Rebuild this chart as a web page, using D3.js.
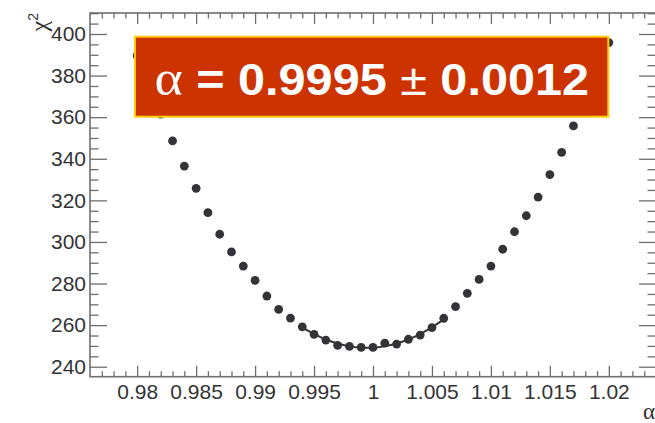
<!DOCTYPE html>
<html>
<head>
<meta charset="utf-8">
<script src="https://cdn.jsdelivr.net/npm/d3@7"></script>
<style>
  html, body { margin: 0; padding: 0; background: #fff; }
  svg { display: block; }
  .tick text { font-family: "Liberation Sans", Arial, Helvetica, sans-serif; font-size: 21px; fill: #333; }
</style>
</head>
<body>
<svg id="chart" width="655" height="423"></svg>
<script>
// Scan points: scale parameter alpha and the chi-square at each value
const alphaValues = [
  0.980, 0.981, 0.982, 0.983, 0.984, 0.985, 0.986, 0.987, 0.988, 0.989,
  0.990, 0.991, 0.992, 0.993, 0.994, 0.995, 0.996, 0.997, 0.998, 0.999,
  1.000, 1.001, 1.002, 1.003, 1.004, 1.005, 1.006, 1.007, 1.008, 1.009,
  1.010, 1.011, 1.012, 1.013, 1.014, 1.015, 1.016, 1.017, 1.018, 1.019,
  1.020
];
const chi2Values = [
  389.6, 375.5, 361.5, 348.6, 336.5, 325.8, 314.1, 303.7, 295.2, 288.4,
  281.5, 274.0, 267.6, 263.4, 259.2, 255.6, 252.8, 250.3, 249.8, 249.3,
  249.3, 251.3, 250.9, 253.2, 255.2, 258.8, 263.3, 268.9, 275.3, 282.0,
  288.4, 296.5, 304.9, 312.6, 321.6, 332.4, 343.1, 355.8, 369.0, 382.5,
  395.9
];

// Axis ticks
const xMajorTicks = [0.98, 0.985, 0.99, 0.995, 1, 1.005, 1.01, 1.015, 1.02];
const xTickLabels = ["0.98", "0.985", "0.99", "0.995", "1", "1.005", "1.01", "1.015", "1.02"];
const yMajorTicks = [240, 260, 280, 300, 320, 340, 360, 380, 400];
const yTickLabels = ["240", "260", "280", "300", "320", "340", "360", "380", "400"];

// Fit result shown in the banner
const fitAlpha = 0.9995;
const fitError = 0.0012;
const fitRange = [0.994, 1.006];

const xDomain = [0.976, 1.024];
const yDomain = [235.2, 410.1];

const frame = { left: 90, right: 656, top: 13, bottom: 376.7 };

const svg = d3.select("#chart");
const x = d3.scaleLinear().domain(xDomain).range([frame.left, frame.right]);
const y = d3.scaleLinear().domain(yDomain).range([frame.bottom, frame.top]);

const axisColor = "#6e6e6e";

// minor tick positions
const xMinor = d3.range(Math.round(xDomain[0] * 1000) + 1, Math.round(xDomain[1] * 1000))
  .map(v => v / 1000).filter(v => !xMajorTicks.some(m => Math.abs(m - v) < 1e-9));
const yMinor = d3.range(Math.ceil(yDomain[0] / 5) * 5, yDomain[1], 5)
  .filter(v => v % 20 !== 0);

function styleAxis(g) {
  g.select(".domain").remove();
  g.selectAll(".tick line").attr("stroke", axisColor).attr("stroke-width", 1.3);
}

const xLab = d3.scaleOrdinal().domain(xMajorTicks).range(xTickLabels);
const yLab = d3.scaleOrdinal().domain(yMajorTicks).range(yTickLabels);

// bottom axis
svg.append("g").attr("transform", `translate(0,${frame.bottom})`)
  .call(d3.axisBottom(x).tickValues(xMajorTicks).tickSize(-11).tickSizeOuter(0)
    .tickPadding(7).tickFormat(d => xLab(d)))
  .call(styleAxis);
svg.append("g").attr("transform", `translate(0,${frame.bottom})`)
  .call(d3.axisBottom(x).tickValues(xMinor).tickSize(-5.5).tickSizeOuter(0).tickFormat(""))
  .call(styleAxis);
// top axis
svg.append("g").attr("transform", `translate(0,${frame.top})`)
  .call(d3.axisTop(x).tickValues(xMajorTicks).tickSize(-11).tickSizeOuter(0).tickFormat(""))
  .call(styleAxis);
svg.append("g").attr("transform", `translate(0,${frame.top})`)
  .call(d3.axisTop(x).tickValues(xMinor).tickSize(-5.5).tickSizeOuter(0).tickFormat(""))
  .call(styleAxis);
// left axis
svg.append("g").attr("transform", `translate(${frame.left},0)`)
  .call(d3.axisLeft(y).tickValues(yMajorTicks).tickSize(-17).tickSizeOuter(0)
    .tickPadding(4).tickFormat(d => yLab(d)))
  .call(styleAxis);
svg.append("g").attr("transform", `translate(${frame.left},0)`)
  .call(d3.axisLeft(y).tickValues(yMinor).tickSize(-8.5).tickSizeOuter(0).tickFormat(""))
  .call(styleAxis);
// right axis
svg.append("g").attr("transform", `translate(${frame.right},0)`)
  .call(d3.axisRight(y).tickValues(yMajorTicks).tickSize(-17).tickSizeOuter(0).tickFormat(""))
  .call(styleAxis);
svg.append("g").attr("transform", `translate(${frame.right},0)`)
  .call(d3.axisRight(y).tickValues(yMinor).tickSize(-8.5).tickSizeOuter(0).tickFormat(""))
  .call(styleAxis);

// frame
svg.append("rect")
  .attr("x", frame.left).attr("y", frame.top)
  .attr("width", frame.right - frame.left).attr("height", frame.bottom - frame.top)
  .attr("fill", "none").attr("stroke", axisColor).attr("stroke-width", 1.6);

// axis titles
svg.append("text")
  .attr("transform", `translate(47,${frame.top}) rotate(-90)`)
  .attr("text-anchor", "end")
  .attr("font-family", "'Liberation Serif', 'Times New Roman', serif")
  .attr("font-size", 24).attr("fill", "#333")
  .html('χ<tspan dy="-9" font-size="14" font-family="Liberation Sans, Arial, sans-serif">2</tspan>');

svg.append("text")
  .attr("x", 655).attr("y", 419)
  .attr("text-anchor", "end")
  .attr("font-family", "'Liberation Serif', 'Times New Roman', serif")
  .attr("font-size", 23).attr("fill", "#333")
  .text("α");

// quadratic fit around the minimum, centre fixed at the fitted alpha
const pts = alphaValues.map((a, i) => ({ a, c: chi2Values[i] }));
const inFit = pts.filter(p => p.a >= fitRange[0] - 1e-9 && p.a <= fitRange[1] + 1e-9);
const us = inFit.map(p => (p.a - fitAlpha) ** 2);
const n = inFit.length;
const su = d3.sum(us), suu = d3.sum(us, u => u * u);
const sc = d3.sum(inFit, p => p.c), suc = d3.sum(inFit, (p, i) => us[i] * p.c);
const k = (n * suc - su * sc) / (n * suu - su * su);
const c0 = (sc - k * su) / n;
const fitCurve = d3.range(0, 61).map(i => {
  const a = fitRange[0] + (fitRange[1] - fitRange[0]) * i / 60;
  return { a, c: c0 + k * (a - fitAlpha) ** 2 };
});
svg.append("path")
  .datum(fitCurve)
  .attr("d", d3.line().x(d => x(d.a)).y(d => y(d.c)))
  .attr("fill", "none").attr("stroke", "#333338").attr("stroke-width", 2);

// scan points
svg.append("g").selectAll("circle")
  .data(pts).join("circle")
  .attr("cx", d => x(d.a)).attr("cy", d => y(d.c))
  .attr("r", 4.4).attr("fill", "#333338");

// result banner
const banner = svg.append("g");
banner.append("rect")
  .attr("x", 135).attr("y", 36.7).attr("width", 473.3).attr("height", 80)
  .attr("fill", "#cc3300").attr("stroke", "#ffcc00").attr("stroke-width", 2);
const t = banner.append("text")
  .attr("transform", "translate(371.7,95) scale(1.08,1)")
  .attr("text-anchor", "middle")
  .attr("font-family", "'Liberation Sans', Arial, Helvetica, sans-serif")
  .attr("font-size", 45).attr("font-weight", "bold").attr("fill", "#fff");
t.append("tspan").attr("font-family", "'Liberation Serif', 'Times New Roman', serif")
  .attr("font-weight", "normal").attr("font-size", 50).text("α");
t.append("tspan").text(" = " + fitAlpha.toFixed(4) + " ");
t.append("tspan").attr("font-weight", "normal").text("±");
t.append("tspan").text(" " + fitError.toFixed(4));
</script>
</body>
</html>
